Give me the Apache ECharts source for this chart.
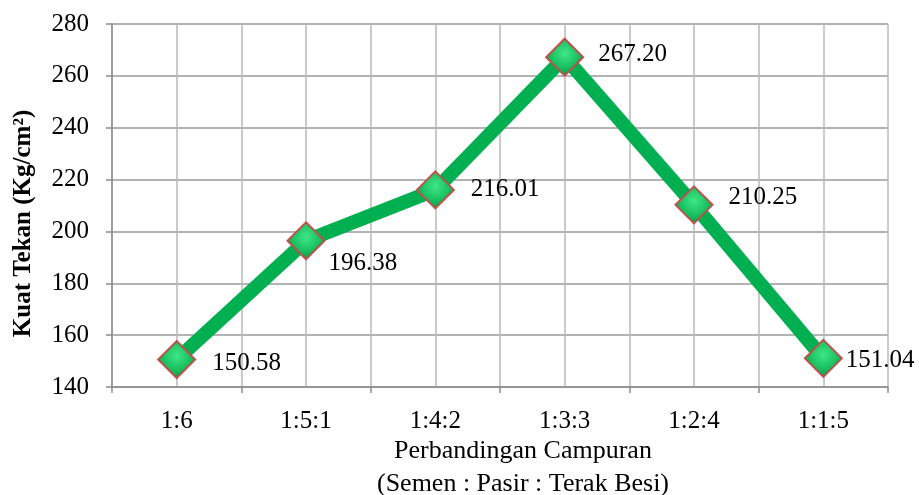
<!DOCTYPE html>
<html>
<head>
<meta charset="utf-8">
<script src="https://cdn.jsdelivr.net/npm/echarts@6/dist/echarts.min.js"></script>
<style>
  html, body { margin: 0; padding: 0; background: #fff; }
  #chart { width: 919px; height: 495px; }
</style>
</head>
<body>
<div id="chart"></div>
<script>
  // data
  const categories = ['1:6', '1:5:1', '1:4:2', '1:3:3', '1:2:4', '1:1:5'];
  const kuatTekan = [150.58, 196.38, 216.01, 267.2, 210.25, 151.04];
  // label offsets [dx, dy] next to each marker
  const labelOffsets = [[0, 4], [-13, 23], [0, 0], [-2, -3], [-1, -7], [-13, 2]];

  const chart = echarts.init(document.getElementById('chart'));
  const font = '"Liberation Serif", "Times New Roman", serif';

  chart.setOption({
    animation: false,
    textStyle: { fontFamily: font },
    grid: {
      left: 112, right: 31, top: 24, bottom: 108,
      containLabel: false,
      outerBoundsMode: 'none'
    },
    xAxis: [
      {
        type: 'category',
        data: categories,
        boundaryGap: true,
        name: 'Perbandingan Campuran\n(Semen : Pasir : Terak Besi)',
        nameLocation: 'middle',
        nameMoveOverlap: false,
        nameGap: 48,
        nameTextStyle: {
          fontSize: 26, color: '#000', lineHeight: 33,
          verticalAlign: 'top', padding: [0, 0, 0, 46]
        },
        axisLine: { lineStyle: { color: '#8c8c8c', width: 1.5 } },
        axisTick: { show: true, length: 6, lineStyle: { color: '#8c8c8c', width: 1.5 } },
        axisLabel: { fontSize: 25, color: '#000', margin: 22 },
        splitLine: { show: false }
      },
      {
        // only for the grey grid: lines at category edges and centres
        type: 'value',
        position: 'bottom',
        min: 0,
        max: 12,
        interval: 1,
        axisLine: { show: false },
        axisTick: { show: false },
        axisLabel: { show: false },
        splitLine: { show: true, lineStyle: { color: '#b9b9b9', width: 1.5 } }
      }
    ],
    yAxis: {
      type: 'value',
      min: 140,
      max: 280,
      interval: 20,
      name: 'Kuat Tekan (Kg/cm²)',
      nameLocation: 'middle',
      nameMoveOverlap: false,
      nameGap: 76,
      nameTextStyle: {
        fontSize: 25, fontWeight: 'bold', color: '#000',
        padding: [0, 36, 0, 0]
      },
      axisLine: { show: true, lineStyle: { color: '#8c8c8c', width: 1.5 } },
      axisTick: { show: true, length: 6, lineStyle: { color: '#8c8c8c', width: 1.5 } },
      axisLabel: { fontSize: 25, color: '#000', margin: 23 },
      splitLine: { show: true, lineStyle: { color: '#9a9a9a', width: 1.5 } }
    },
    series: [
      {
        type: 'line',
        xAxisIndex: 0,
        data: kuatTekan.map((v, i) => ({
          value: v,
          label: { offset: labelOffsets[i] }
        })),
        lineStyle: { color: '#00b050', width: 14, join: 'round' },
        symbol: 'diamond',
        symbolSize: [37, 37],
        itemStyle: {
          color: {
            type: 'radial', x: 0.5, y: 0.4, r: 0.6,
            colorStops: [
              { offset: 0, color: '#3fe684' },
              { offset: 0.6, color: '#19c060' },
              { offset: 1, color: '#009a3c' }
            ]
          },
          borderColor: '#c0504d',
          borderWidth: 2
        },
        label: {
          show: true,
          position: 'right',
          distance: 16,
          fontSize: 25,
          color: '#000',
          formatter: (p) => p.value.toFixed(2)
        },
        z: 5
      }
    ]
  });
</script>
</body>
</html>
